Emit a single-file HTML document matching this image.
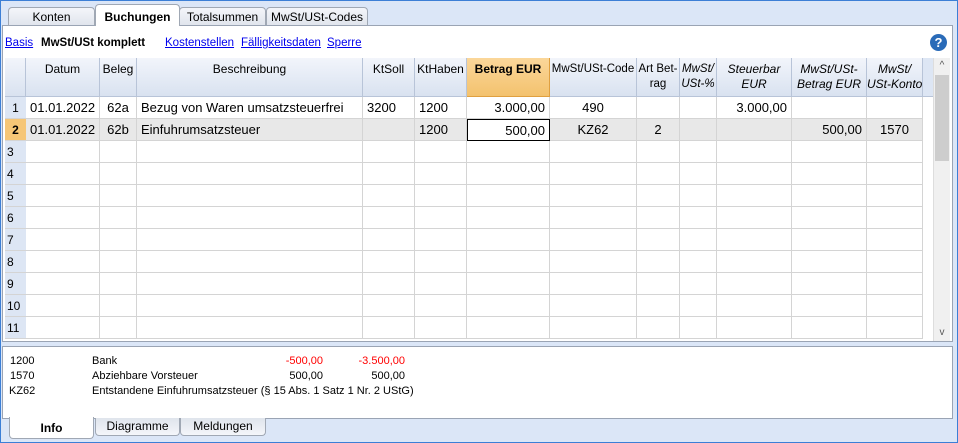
<!DOCTYPE html>
<html><head><meta charset="utf-8"><style>
*{box-sizing:border-box;margin:0;padding:0}
body{width:958px;height:443px;overflow:hidden;background:#dbe6f7;font-family:"Liberation Sans","DejaVu Sans",sans-serif;font-size:13px;color:#000;position:relative}
.abs{position:absolute}
.tab{position:absolute;top:7px;height:19px;border:1px solid #a0a8b4;border-bottom:none;border-radius:4px 4px 0 0;background:linear-gradient(#f4f6fa,#dfe4ec);text-align:center;font-size:12px;line-height:19px}
.tab.act{top:4px;height:22px;background:#fff;font-weight:bold;line-height:24px}
.panel{position:absolute;left:2px;top:25px;width:951px;height:317px;background:#fff;border:1px solid #9aa4b4}
.link{position:absolute;top:37px;font-size:11.5px;color:#0000ee;text-decoration:underline}
.cell{position:absolute;border-right:1px solid #d4d4d4;border-bottom:1px solid #d4d4d4;height:22px;line-height:22px;padding:0 4px;white-space:nowrap;overflow:hidden}
.hd{position:absolute;top:58px;height:39px;background:linear-gradient(#f2f5fb,#d9e2f0);border-right:1px solid #b8c4d8;border-bottom:1px solid #b8c4d8;text-align:center;font-size:12px;line-height:15px;padding-top:4px;white-space:nowrap;overflow:hidden}
.info{position:absolute;left:2px;top:346px;width:951px;height:73px;background:#fff;border:1px solid #9aa4b4}
.btab{position:absolute;top:418px;height:18px;border:1px solid #a0a8b4;border-top:none;border-radius:0 0 4px 4px;background:linear-gradient(#dfe4ec,#f4f6fa);text-align:center;font-size:12px;line-height:16px}
.btab.act{top:417px;height:22px;background:#fff;font-weight:bold;line-height:22px}
.it2{position:absolute;font-size:11px}
</style></head><body>
<div class="tab" style="left:8px;width:87px">Konten</div>
<div class="tab" style="left:179px;width:87px">Totalsummen</div>
<div class="tab" style="left:266px;width:102px">MwSt/USt-Codes</div>
<div class="panel"></div>
<div class="tab act" style="left:95px;width:85px;border-bottom:none">Buchungen</div>

<div class="link" style="left:5px">Basis</div>
<div class="abs" style="left:41px;top:37px;font-size:11.5px;font-weight:bold">MwSt/USt komplett</div>
<div class="link" style="left:165px">Kostenstellen</div>
<div class="link" style="left:241px">Fälligkeitsdaten</div>
<div class="link" style="left:327px">Sperre</div>
<div class="abs" style="left:930px;top:34px;width:17px;height:17px;border-radius:50%;background:#2a6bb8;color:#fff;font-weight:bold;text-align:center;line-height:17px;font-size:13px">?</div>

<div id="grid"></div>
<div class="abs" style="left:933px;top:58px;width:17px;height:283px;background:#f0f0f0;border-left:1px solid #ddd">
 <div class="abs" style="left:0;top:0;width:16px;height:16px;text-align:center;font-size:10px;line-height:16px;color:#555">^</div>
 <div class="abs" style="left:1px;top:17px;width:14px;height:86px;background:#cdcdcd"></div>
 <div class="abs" style="left:0;bottom:0;width:16px;height:16px;text-align:center;font-size:10px;line-height:16px;color:#555">v</div>
</div>

<div class="info">
 <div class="it2" style="left:7px;top:8px">1200</div><div class="it2" style="left:89px;top:8px">Bank</div>
 <div class="it2" style="left:240px;top:8px;width:80px;text-align:right;color:#f00">-500,00</div>
 <div class="it2" style="left:320px;top:8px;width:82px;text-align:right;color:#f00">-3.500,00</div>
 <div class="it2" style="left:7px;top:23px">1570</div><div class="it2" style="left:89px;top:23px">Abziehbare Vorsteuer</div>
 <div class="it2" style="left:240px;top:23px;width:80px;text-align:right">500,00</div>
 <div class="it2" style="left:320px;top:23px;width:82px;text-align:right">500,00</div>
 <div class="it2" style="left:6px;top:38px">KZ62</div><div class="it2" style="left:89px;top:38px">Entstandene Einfuhrumsatzsteuer (§ 15 Abs. 1 Satz 1 Nr. 2 UStG)</div>
</div>
<div class="btab act" style="left:9px;width:85px">Info</div>
<div class="btab" style="left:95px;width:85px">Diagramme</div>
<div class="btab" style="left:180px;width:86px">Meldungen</div>
<div class="abs" style="left:0;top:0;width:958px;height:443px;border:1px solid #3c7fd6;pointer-events:none"></div>

<script>
const cols=[[5,21,"","",""],[26,74,"Datum","",""],[100,37,"Beleg","",""],[137,226,"Beschreibung","",""],[363,52,"KtSoll","",""],[415,52,"KtHaben","",""],[467,83,"Betrag EUR","b",""],[550,87,"MwSt/USt-Code","",""],[637,43,"Art Bet-<br>rag","",""],[680,37,"MwSt/<br>USt-%","i",""],[717,75,"Steuerbar<br>EUR","i",""],[792,75,"MwSt/USt-<br>Betrag EUR","i",""],[867,56,"MwSt/<br>USt-Konto","i",""],[923,10,"","",""]];
const rows=[
["1","01.01.2022","62a","Bezug von Waren umsatzsteuerfrei","3200","1200","3.000,00","490","","","3.000,00","",""],
["2","01.01.2022","62b","Einfuhrumsatzsteuer","","1200","500,00","KZ62","2","","","500,00","1570"]];
const align=["c","l","c","l","l","l","r","c","c","c","r","r","c"];
const g=document.getElementById('grid');
cols.forEach((c,i)=>{const d=document.createElement('div');d.className='hd';d.style.left=c[0]+'px';d.style.width=c[1]+'px';d.innerHTML=c[2];
if(c[3]=='b'){d.style.background='linear-gradient(#fbd79a,#f3c26e)';d.style.fontWeight='bold';d.style.borderColor='#e0a040'}
if(c[3]=='i')d.style.fontStyle='italic';if(i==13){d.style.background='#dde6f4';d.style.borderRight='none'}
if(i==7||i==8||i==9){d.style.padding='4px 0 0 0';d.style.fontSize='11.5px'}


g.appendChild(d);});
for(let r=0;r<11;r++){for(let i=0;i<13;i++){const c=cols[i];const d=document.createElement('div');d.className='cell';
d.style.left=c[0]+'px';d.style.width=c[1]+'px';d.style.top=(97+r*22)+'px';
let t=r<2?rows[r][i]:(i==0?String(r+1):'');d.textContent=t;
d.style.textAlign=align[i]=='c'?'center':align[i]=='r'?'right':'left';
if(i==0){d.style.background='#dde6f4';d.style.padding='0 2px';d.style.textAlign=r>=2?'left':'center';d.style.fontSize='12px'}
if(r==1&&i>0)d.style.background='#e8e8e8';
if(r==1&&i==0){d.style.background='#f6c676';d.style.fontWeight='bold'}
if(r==1&&i==6){d.style.background='#fff';d.style.border='1px solid #000'}
if(i==0){d.style.borderRight='none'}


g.appendChild(d);}}
</script>
</body></html>
